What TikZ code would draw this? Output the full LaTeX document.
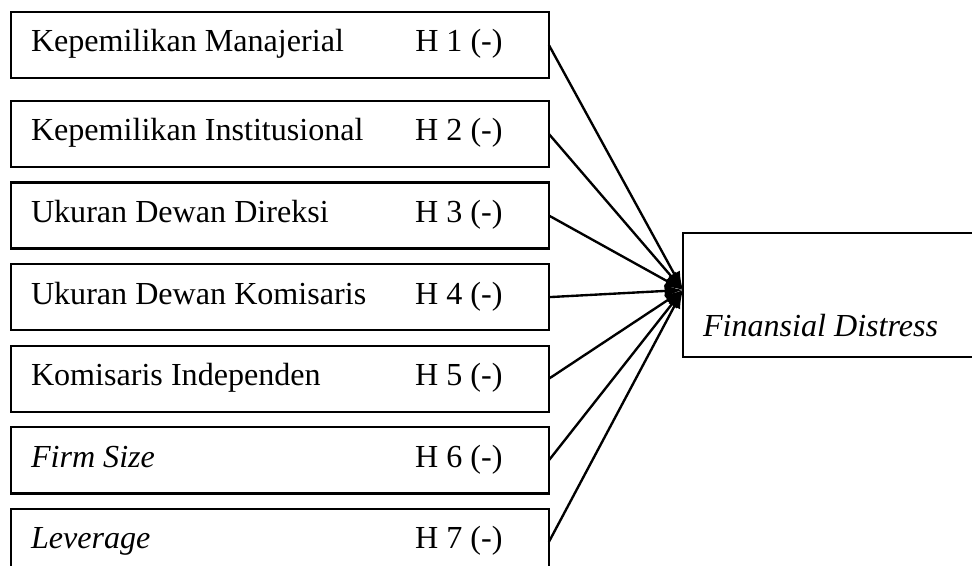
\documentclass[tikz,border=0pt]{standalone}
\usepackage{fontspec}
\setmainfont{Liberation Serif}
\usepackage{tikz}
\usetikzlibrary{positioning,arrows.meta}

\newcommand{\hyplabel}[2]{\makebox[189.2pt][l]{\makebox[146pt][l]{#1}#2}}

\begin{document}
\begin{tikzpicture}[
 x=0.38pt, y=-0.38pt,
 node distance=5.9pt,
 font=\fontsize{12.2}{14}\selectfont,
 box/.style={rectangle, draw, line width=0.9pt, outer sep=0pt, inner xsep=7.6pt, inner ysep=0pt, text height=15.2pt, text depth=9.9pt},
 outbox/.style={rectangle, draw, line width=0.9pt, outer sep=0pt, minimum width=118pt, inner xsep=7.6pt, inner ysep=0pt, text height=39.5pt, text depth=7.6pt},
 arrow/.style={-{Latex[length=7pt,width=5pt]}, line width=0.9pt}
 ]
 \useasboundingbox (0,0) rectangle (972,565);
 \clip (0,0) rectangle (972,565);
 % Nodes
 \node[box, anchor=north west] (km) at (11,12) {\hyplabel{Kepemilikan Manajerial}{H 1 (-)}};
 \node[box, below=8.7pt of km] (ki) {\hyplabel{Kepemilikan Institusional}{H 2 (-)}};
 \node[box, below=of ki] (udd) {\hyplabel{Ukuran Dewan Direksi}{H 3 (-)}};
 \node[box, below=of udd] (udk) {\hyplabel{Ukuran Dewan Komisaris}{H 4 (-)}};
 \node[box, below=of udk] (kind) {\hyplabel{Komisaris Independen}{H 5 (-)}};
 \node[box, below=of kind] (fs) {\hyplabel{\textit{Firm Size}}{H 6 (-)}};
 \node[box, below=of fs] (lev) {\hyplabel{\textit{Leverage}}{H 7 (-)}};
 \node[outbox, anchor=north west] (fd) at (683,233) {\makebox[102.8pt][l]{\textit{Finansial Distress}}};
 \coordinate (tip) at ([yshift=1.9pt]fd.west);
 % Arrows
 \draw[arrow] (km.east) -- (tip);
 \draw[arrow] (ki.east) -- (tip);
 \draw[arrow] (udd.east) -- (tip);
 \draw[arrow] (udk.east) -- (tip);
 \draw[arrow] (kind.east) -- (tip);
 \draw[arrow] (fs.east) -- (tip);
 \draw[arrow] (lev.east) -- (tip);
\end{tikzpicture}
\end{document}
